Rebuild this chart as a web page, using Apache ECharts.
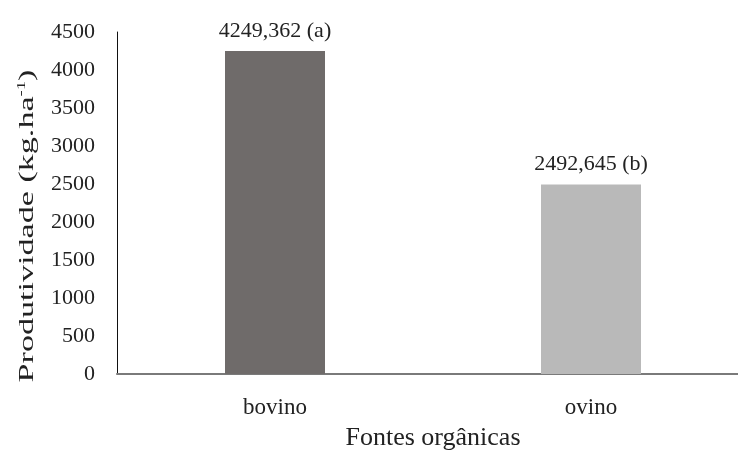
<!DOCTYPE html>
<html>
<head>
<meta charset="utf-8">
<script src="https://cdn.jsdelivr.net/npm/echarts@6/dist/echarts.min.js"></script>
<style>html,body{margin:0;padding:0;background:#fff}#c{width:738px;height:450px}</style>
</head>
<body>
<div id="c"></div>
<script>
const categories = ['bovino', 'ovino'];
const values = [4249.362, 2492.645];
const labels = ['4249,362 (a)', '2492,645 (b)'];
const barColors = ['#6f6b6a', '#b9b9b9'];
const yTicks = [0, 500, 1000, 1500, 2000, 2500, 3000, 3500, 4000, 4500];
const yTitle = 'Produtividade (kg.ha';
const yTitleSup = '-1';
const xTitle = 'Fontes orgânicas';

const font = '"Liberation Serif", "Times New Roman", serif';
const chart = echarts.init(document.getElementById('c'), null, {renderer: 'canvas'});
chart.setOption({
  animation: false,
  backgroundColor: '#fff',
  grid: {left: 117, top: 32, width: 632, height: 342, containLabel: false, outerBoundsMode: 'none'},
  graphic: [{
    type: 'text',
    x: 27, y: 226,
    rotation: Math.PI / 2,
    scaleX: 1.55,
    style: {
      text: '{n|' + yTitle + '}{s|' + yTitleSup + '}{n|)}',
      align: 'center', verticalAlign: 'middle',
      rich: {
        n: {fontFamily: font, fontSize: 22, fill: '#222'},
        s: {fontFamily: font, fontSize: 12, fill: '#222', verticalAlign: 'top', padding: [0, 0, 10, 0]}
      }
    }
  }],
  xAxis: {
    type: 'category',
    data: categories,
    name: xTitle,
    nameLocation: 'middle',
    nameGap: 51,
    nameTextStyle: {fontFamily: font, fontSize: 26, color: '#222'},
    axisLine: {lineStyle: {color: '#7a7a7a', width: 2}},
    axisTick: {show: false},
    axisLabel: {fontFamily: font, fontSize: 23, color: '#222', margin: 22}
  },
  yAxis: {
    type: 'value',
    min: 0, max: yTicks[yTicks.length - 1], interval: 500,
    axisLine: {show: true, lineStyle: {color: '#111', width: 1}},
    axisTick: {show: false},
    splitLine: {show: false},
    axisLabel: {fontFamily: font, fontSize: 22, color: '#222', margin: 22, formatter: v => String(v)}
  },
  series: [{
    type: 'bar',
    barWidth: 100,
    data: values.map((v, i) => ({value: v, itemStyle: {color: barColors[i]}})),
    label: {
      show: true, position: 'top', distance: 9,
      fontFamily: font, fontSize: 22, color: '#222',
      formatter: p => labels[p.dataIndex]
    }
  }]
});
</script>
</body>
</html>
